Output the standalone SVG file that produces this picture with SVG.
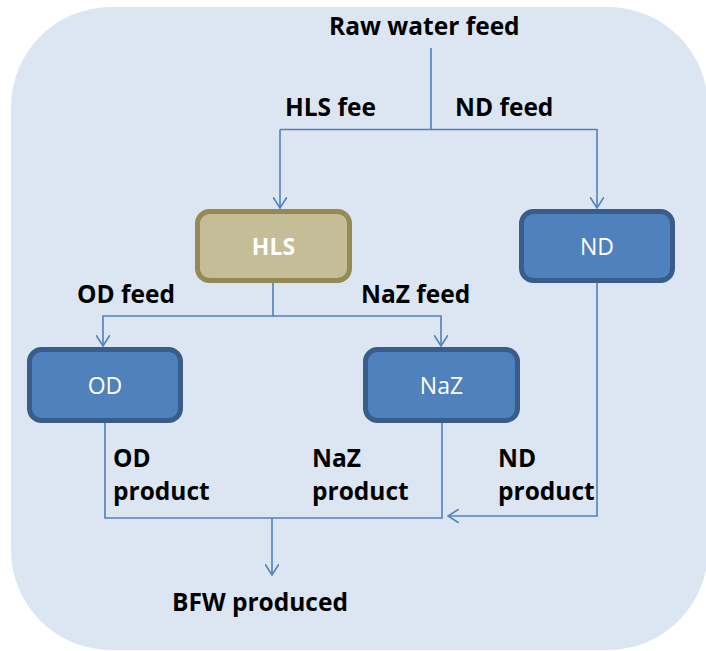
<svg xmlns="http://www.w3.org/2000/svg" width="706" height="651" viewBox="0 0 706 651">
<defs>
<style>
.lbl{font-family:"Open Sans","Liberation Sans",Arial,sans-serif;font-weight:bold;font-size:24.5px;fill:#000}
.ntxt{font-family:"Open Sans","Liberation Sans",Arial,sans-serif;font-size:23px;fill:#fff;text-anchor:middle;dominant-baseline:central}
.blue{fill:#4F81BD;stroke:#385D8A;stroke-width:5}
.tan{fill:#C4BD97;stroke:#948A54;stroke-width:5}
.conn{fill:none;stroke:#4F81BD;stroke-width:1.6}
</style>
<marker id="arr" viewBox="0 0 12 14" refX="11" refY="7" markerWidth="12" markerHeight="14" markerUnits="userSpaceOnUse" orient="auto">
<path d="M0,0 L11,7 L0,14" fill="none" stroke="#4F81BD" stroke-width="1.6"/>
</marker>
</defs>
<rect x="11" y="7" width="697" height="643" rx="100" ry="100" fill="#DCE6F2"/>
<g id="connectors">
<path class="conn" d="M431,48 V129.5 H280"/>
<path class="conn" d="M280,129.5 V208" marker-end="url(#arr)"/>
<path class="conn" d="M431,129.5 H597 V208" marker-end="url(#arr)"/>
<path class="conn" d="M273,283 V316 H103 V346" marker-end="url(#arr)"/>
<path class="conn" d="M273,316 H441 V346" marker-end="url(#arr)"/>
<path class="conn" d="M105,423 V518 H442 V423"/>
<path class="conn" d="M272,518 V575" marker-end="url(#arr)"/>
<path class="conn" d="M597,283 V516 H448" marker-end="url(#arr)"/>
</g>
<g id="node-hls"><rect class="tan" x="197.5" y="211.5" width="152" height="69" rx="12"/><text class="ntxt" x="273.5" y="246" font-weight="bold">HLS</text></g>
<g id="node-nd"><rect class="blue" x="521.5" y="211.5" width="151" height="69" rx="12"/><text class="ntxt" x="597" y="246">ND</text></g>
<g id="node-od"><rect class="blue" x="29.5" y="349.5" width="151" height="71" rx="12"/><text class="ntxt" x="105" y="385">OD</text></g>
<g id="node-naz"><rect class="blue" x="365.5" y="349.5" width="152" height="71" rx="12"/><text class="ntxt" x="441.5" y="385">NaZ</text></g>
<g id="labels">
<text class="lbl" x="329" y="35">Raw water feed</text>
<text class="lbl" x="285" y="116">HLS fee</text>
<text class="lbl" x="455" y="116">ND feed</text>
<text class="lbl" x="77" y="303">OD feed</text>
<text class="lbl" x="361" y="303">NaZ feed</text>
<text class="lbl" x="113" y="467">OD</text>
<text class="lbl" x="113" y="500">product</text>
<text class="lbl" x="312" y="467">NaZ</text>
<text class="lbl" x="312" y="500">product</text>
<text class="lbl" x="498" y="467">ND</text>
<text class="lbl" x="498" y="500">product</text>
<text class="lbl" x="172" y="611">BFW produced</text>
</g>
</svg>
